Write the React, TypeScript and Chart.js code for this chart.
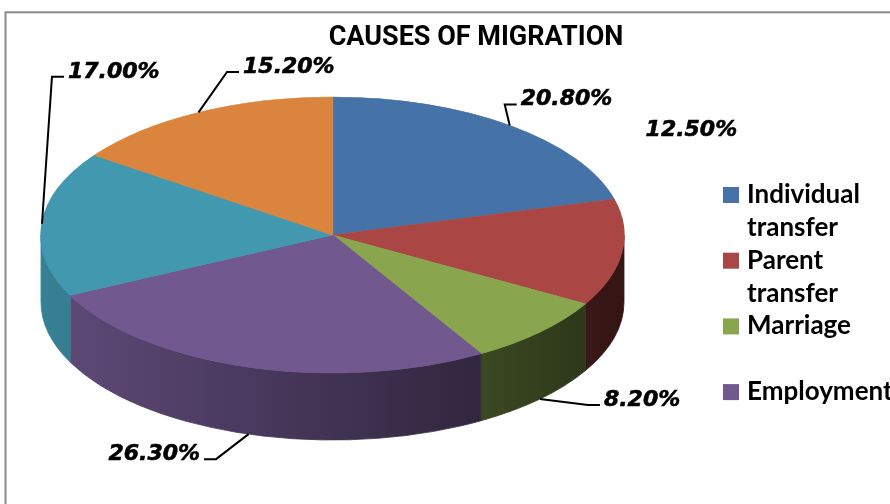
import React, { useEffect, useRef } from 'react';
import { Chart, registerables } from 'chart.js';

Chart.register(...registerables);

// ---------- data ----------
const categories = ['Individual transfer', 'Parent transfer', 'Marriage', 'Employment', 'Education', 'Others'];
const values = [20.8, 12.5, 8.2, 26.3, 17.0, 15.2];
const colors = ['#4572A7', '#AA4643', '#89A54E', '#71588F', '#4198AF', '#DB843D'];
const chartTitle = 'CAUSES OF MIGRATION';
const legendVisibleCount = 4;

// ---------- layout / style ----------
const PIE = { cx: 332.5, cy: 235, rx: 291.5, ry: 138, depth: 67 };
type Placement = { dx: number; dy: number; align: 'left' | 'right'; leader: boolean };
const labelPlacement: Placement[] = [
  { dx: 11, dy: -20, align: 'left', leader: true },
  { dx: 24, dy: -184, align: 'left', leader: false },
  { dx: 64, dy: 7, align: 'left', leader: true },
  { dx: -48.5, dy: 26, align: 'right', leader: true },
  { dx: 26, dy: -146, align: 'left', leader: true },
  { dx: 44.5, dy: -39.5, align: 'left', leader: true },
];
const LEGEND = { boxX: 723, box: 16, textX: 747, firstBaseline: 203, lineH: 32.85, linesPerItem: 2 };
const labelFont = "italic bold 22px 'DejaVu Sans'";
const legendFont = "bold 26px Lato";

function shade(hex: string, f: number): string {
  const n = parseInt(hex.slice(1), 16);
  const r = Math.round(((n >> 16) & 255) * f);
  const g = Math.round(((n >> 8) & 255) * f);
  const b = Math.round((n & 255) * f);
  return `rgb(${r},${g},${b})`;
}

const pie3d = {
  id: 'pie3d',
  beforeDraw(chart: any) {
    const ctx = chart.ctx;
    ctx.save();
    ctx.strokeStyle = '#8a8a8a';
    ctx.lineWidth = 2;
    ctx.strokeRect(5.5, 12.3, 2000, 2000);
    ctx.restore();
  },
  beforeDatasetsDraw(chart: any) {
    const ctx = chart.ctx;
    const meta = chart.getDatasetMeta(0);
    const bg = chart.data.datasets[0].backgroundColor as string[];
    const { cx, cy, rx, ry, depth } = PIE;
    // side walls (visible lower half)
    meta.data.forEach((arc: any, i: number) => {
      const { startAngle, endAngle } = arc.getProps(['startAngle', 'endAngle'], true);
      const a1 = Math.max(startAngle, 0);
      const a2 = Math.min(endAngle, Math.PI);
      if (a2 <= a1) return;
      const g = ctx.createLinearGradient(cx - rx, 0, cx + rx, 0);
      g.addColorStop(0, shade(bg[i], 0.85));
      g.addColorStop(1, shade(bg[i], 0.3));
      ctx.save();
      ctx.beginPath();
      ctx.ellipse(cx, cy, rx, ry, 0, a1, a2);
      ctx.ellipse(cx, cy + depth, rx, ry, 0, a2, a1, true);
      ctx.closePath();
      ctx.fillStyle = g;
      ctx.fill();
      ctx.strokeStyle = g;
      ctx.lineWidth = 0.8;
      ctx.stroke();
      ctx.restore();
    });
    const arc0 = meta.data[0];
    const { x, y, outerRadius } = arc0.getProps(['x', 'y', 'outerRadius'], true);
    ctx.save();
    ctx.translate(cx, cy);
    ctx.scale(rx / outerRadius, ry / outerRadius);
    ctx.translate(-x, -y);
  },
  afterDatasetsDraw(chart: any) {
    chart.ctx.restore();
  },
  afterDraw(chart: any) {
    const ctx = chart.ctx;
    const meta = chart.getDatasetMeta(0);
    const { cx, cy, rx, ry, depth } = PIE;
    const data = chart.data.datasets[0].data as number[];
    // data labels with leader lines
    ctx.save();
    ctx.font = labelFont;
    ctx.fillStyle = '#000';
    ctx.strokeStyle = '#000';
    ctx.lineWidth = 2;
    ctx.textBaseline = 'alphabetic';
    meta.data.forEach((arc: any, i: number) => {
      const { startAngle, endAngle } = arc.getProps(['startAngle', 'endAngle'], true);
      const mid = (startAngle + endAngle) / 2;
      const s = Math.sin(mid);
      const ax = cx + rx * Math.cos(mid);
      const ay = cy + ry * s + (s > 0 ? depth : 0);
      const p = labelPlacement[i];
      const tx = ax + p.dx;
      const ty = ay + p.dy;
      const text = data[i].toFixed(2) + '%';
      ctx.textAlign = p.align;
      ctx.fillText(text, tx, ty);
      ctx.lineWidth = 0.6;
      ctx.strokeText(text, tx, ty);
      ctx.lineWidth = 2;
      if (p.leader) {
        const dir = p.align === 'left' ? -1 : 1;
        ctx.beginPath();
        ctx.moveTo(ax, ay);
        ctx.lineTo(tx + dir * 16, ty - 1);
        ctx.lineTo(tx + dir * 4, ty - 1);
        ctx.stroke();
      }
    });
    ctx.restore();

    // legend
    const labels = chart.data.labels as string[];
    const bg = chart.data.datasets[0].backgroundColor as string[];
    ctx.save();
    ctx.font = legendFont;
    ctx.fillStyle = '#000';
    ctx.textAlign = 'left';
    ctx.textBaseline = 'alphabetic';
    for (let i = 0; i < Math.min(legendVisibleCount, labels.length); i++) {
      const base = LEGEND.firstBaseline + i * LEGEND.lineH * LEGEND.linesPerItem;
      ctx.fillStyle = bg[i];
      ctx.fillRect(LEGEND.boxX, base - LEGEND.box, LEGEND.box, LEGEND.box);
      ctx.fillStyle = '#000';
      labels[i].split(' ').forEach((w, k) => {
        ctx.fillText(w, LEGEND.textX, base + k * LEGEND.lineH);
      });
    }
    ctx.restore();
  },
};

export default function App() {
  const ref = useRef<HTMLCanvasElement | null>(null);
  useEffect(() => {
    if (!ref.current) return;
    const chart = new Chart(ref.current, {
      type: 'pie',
      data: {
        labels: categories,
        datasets: [
          {
            data: values,
            backgroundColor: colors,
            borderColor: colors,
            borderWidth: 1,
            clip: false as any,
          },
        ],
      },
      options: {
        responsive: false,
        maintainAspectRatio: false,
        animation: false,
        layout: { padding: { left: 62, right: 0, top: 0, bottom: 0 } },
        plugins: {
          legend: { display: false },
          tooltip: { enabled: false },
          title: {
            display: true,
            text: chartTitle,
            color: '#000',
            font: { family: 'Roboto', weight: 'bold', size: 27 },
            padding: { top: 22, bottom: 10 },
          },
        },
      },
      plugins: [pie3d as any],
    });
    return () => chart.destroy();
  }, []);
  return (
    <div style={{ position: 'fixed', left: 0, top: 0, width: 890, height: 504, background: '#fff', overflow: 'hidden' }}>
      <canvas ref={ref} width={890} height={504} style={{ display: 'block' }} />
    </div>
  );
}
